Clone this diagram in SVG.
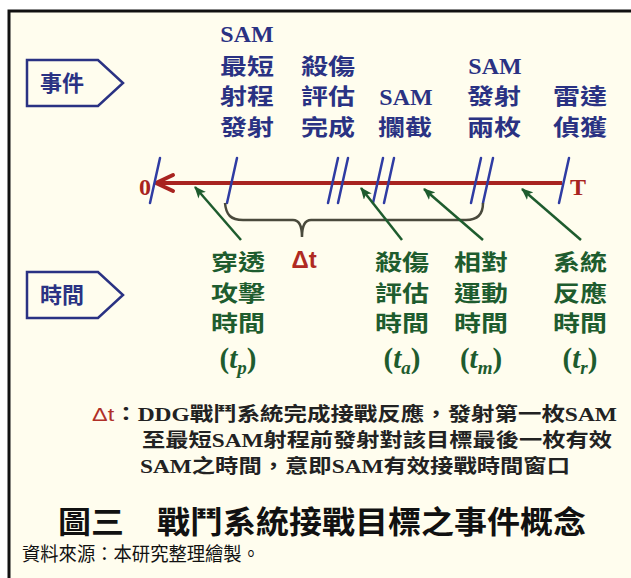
<svg xmlns="http://www.w3.org/2000/svg" width="631" height="578" viewBox="0 0 631 578">
<style>
.ev{font-family:"Noto Sans CJK TC","Noto Sans CJK SC",sans-serif;font-weight:700;font-size:22px;fill:#2A3283;text-anchor:middle}
.gr{font-family:"Noto Sans CJK TC","Noto Sans CJK SC",sans-serif;font-weight:700;font-size:22px;fill:#1E5C2E;text-anchor:middle}
.lat{font-family:"Liberation Serif",serif;font-weight:700}
.sam{font-size:24px}
.sym{font-family:"Liberation Serif",serif;font-weight:700;font-size:29px;fill:#1E5C2E;text-anchor:middle}
.box{fill:none;stroke:#2A3283;stroke-width:2.5;stroke-linejoin:miter}
.boxt{font-family:"Noto Sans CJK TC",sans-serif;font-weight:700;font-size:22px;fill:#2A3283;text-anchor:middle}
.tick{stroke:#2F3CA3;stroke-width:2.5;stroke-linecap:round}
.garr{stroke:#1E5C2E;stroke-width:2.5;fill:none;marker-end:url(#ga)}
.red{fill:#A82420}
.note{font-family:"Noto Sans CJK TC",sans-serif;font-weight:700;font-size:19px;fill:#222}
</style>
<defs>
<marker id="ga" viewBox="0 0 12 10" refX="11" refY="5" markerWidth="12" markerHeight="10" markerUnits="userSpaceOnUse" orient="auto">
<path d="M0,0 L12,5 L0,10 L3,5 z" fill="#1E5C2E"/>
</marker>
</defs>
<rect width="631" height="578" fill="#ffffff"/>
<rect x="9" y="11" width="622" height="567" fill="#FFFDEE"/>
<path d="M9,578 L9,11 L631,11" fill="none" stroke="#111" stroke-width="3"/>

<g id="events-box">
<polygon class="box" points="27,60 98,60 123,83 98,106 27,106"/>
<text class="boxt" x="62" y="91">事件</text>
</g>
<g id="time-box">
<polygon class="box" points="27,272 98,272 123,295 98,318 27,318"/>
<text class="boxt" x="62" y="303">時間</text>
</g>

<g id="ev-sam-min-range">
<text class="ev lat sam" x="247" y="42">SAM</text>
<text class="ev" x="247" y="74" textLength="54" lengthAdjust="spacingAndGlyphs">最短</text>
<text class="ev" x="247" y="104" textLength="54" lengthAdjust="spacingAndGlyphs">射程</text>
<text class="ev" x="247" y="135" textLength="54" lengthAdjust="spacingAndGlyphs">發射</text>
</g>
<g id="ev-kill-assess">
<text class="ev" x="328" y="74" textLength="54" lengthAdjust="spacingAndGlyphs">殺傷</text>
<text class="ev" x="328" y="104" textLength="54" lengthAdjust="spacingAndGlyphs">評估</text>
<text class="ev" x="328" y="135" textLength="54" lengthAdjust="spacingAndGlyphs">完成</text>
</g>
<g id="ev-sam-intercept">
<text class="ev lat sam" x="406" y="105">SAM</text>
<text class="ev" x="405" y="135" textLength="54" lengthAdjust="spacingAndGlyphs">攔截</text>
</g>
<g id="ev-sam-launch-two">
<text class="ev lat sam" x="495" y="74">SAM</text>
<text class="ev" x="494" y="104" textLength="54" lengthAdjust="spacingAndGlyphs">發射</text>
<text class="ev" x="494" y="135" textLength="54" lengthAdjust="spacingAndGlyphs">兩枚</text>
</g>
<g id="ev-radar">
<text class="ev" x="580" y="104" textLength="54" lengthAdjust="spacingAndGlyphs">雷達</text>
<text class="ev" x="580" y="135" textLength="54" lengthAdjust="spacingAndGlyphs">偵獲</text>
</g>

<g id="timeline">
<line x1="158" y1="183" x2="562" y2="183" stroke="#A82420" stroke-width="4"/>
<polyline points="173,175 156,183 173,191" fill="none" stroke="#A82420" stroke-width="4" stroke-linejoin="round" stroke-linecap="round"/>
<text class="red" x="145" y="195" font-family="Liberation Serif" font-weight="700" font-size="24" text-anchor="middle">0</text>
<text class="red" x="578" y="195" font-family="Liberation Serif" font-weight="700" font-size="24" text-anchor="middle">T</text>
<line class="tick" x1="160" y1="158" x2="150" y2="203"/>
<line class="tick" x1="237" y1="158" x2="227" y2="203"/>
<line class="tick" x1="338" y1="158" x2="328" y2="203"/>
<line class="tick" x1="348" y1="158" x2="338" y2="203"/>
<line class="tick" x1="383" y1="158" x2="373" y2="203"/>
<line class="tick" x1="394" y1="158" x2="384" y2="203"/>
<line class="tick" x1="481" y1="158" x2="471" y2="203"/>
<line class="tick" x1="493" y1="158" x2="483" y2="203"/>
<line class="tick" x1="569" y1="158" x2="559" y2="203"/>
</g>

<g id="delta-t">
<path d="M225,203 C226,215 231,220 243,220 L293,220 C299,220 302,226 302,237 C302,226 305,220 311,220 L466,220 C478,220 483,214 483,203" fill="none" stroke="#4A4A3C" stroke-width="2.5"/>
<text x="304" y="268" font-family="Liberation Sans" font-weight="700" font-size="24" fill="#B02A22" text-anchor="middle">Δt</text>
</g>

<g id="connectors">
<line class="garr" x1="241" y1="240" x2="195" y2="187"/>
<line class="garr" x1="402" y1="240" x2="361" y2="188"/>
<line class="garr" x1="483" y1="240" x2="424" y2="189"/>
<line class="garr" x1="581" y1="240" x2="522" y2="189"/>
</g>

<g id="t-penetration">
<text class="gr" x="238" y="270" textLength="54" lengthAdjust="spacingAndGlyphs">穿透</text>
<text class="gr" x="238" y="301" textLength="54" lengthAdjust="spacingAndGlyphs">攻擊</text>
<text class="gr" x="238" y="331" textLength="54" lengthAdjust="spacingAndGlyphs">時間</text>
<text class="sym" x="238" y="368">(<tspan font-style="italic">t</tspan><tspan font-style="italic" font-size="19" dy="6">p</tspan><tspan dy="-6">)</tspan></text>
</g>
<g id="t-assessment">
<text class="gr" x="402" y="270" textLength="54" lengthAdjust="spacingAndGlyphs">殺傷</text>
<text class="gr" x="402" y="301" textLength="54" lengthAdjust="spacingAndGlyphs">評估</text>
<text class="gr" x="402" y="331" textLength="54" lengthAdjust="spacingAndGlyphs">時間</text>
<text class="sym" x="402" y="368">(<tspan font-style="italic">t</tspan><tspan font-style="italic" font-size="19" dy="6">a</tspan><tspan dy="-6">)</tspan></text>
</g>
<g id="t-motion">
<text class="gr" x="481" y="270" textLength="54" lengthAdjust="spacingAndGlyphs">相對</text>
<text class="gr" x="481" y="301" textLength="54" lengthAdjust="spacingAndGlyphs">運動</text>
<text class="gr" x="481" y="331" textLength="54" lengthAdjust="spacingAndGlyphs">時間</text>
<text class="sym" x="481" y="368">(<tspan font-style="italic">t</tspan><tspan font-style="italic" font-size="19" dy="6">m</tspan><tspan dy="-6">)</tspan></text>
</g>
<g id="t-reaction">
<text class="gr" x="580" y="270" textLength="54" lengthAdjust="spacingAndGlyphs">系統</text>
<text class="gr" x="580" y="301" textLength="54" lengthAdjust="spacingAndGlyphs">反應</text>
<text class="gr" x="580" y="331" textLength="54" lengthAdjust="spacingAndGlyphs">時間</text>
<text class="sym" x="580" y="368">(<tspan font-style="italic">t</tspan><tspan font-style="italic" font-size="19" dy="6">r</tspan><tspan dy="-6">)</tspan></text>
</g>

<g id="note">
<text class="note" x="92" y="421" textLength="525" lengthAdjust="spacingAndGlyphs"><tspan fill="#B03028" font-family="Liberation Sans" font-weight="400">Δt</tspan>：<tspan class="lat">DDG</tspan>戰鬥系統完成接戰反應，發射第一枚<tspan class="lat">SAM</tspan></text>
<text class="note" x="142" y="447" textLength="470" lengthAdjust="spacingAndGlyphs">至最短<tspan class="lat">SAM</tspan>射程前發射對該目標最後一枚有效</text>
<text class="note" x="140" y="473" textLength="430" lengthAdjust="spacingAndGlyphs"><tspan class="lat">SAM</tspan>之時間，意即<tspan class="lat">SAM</tspan>有效接戰時間窗口</text>
</g>

<g id="title">
<text x="58" y="533" font-family="Noto Sans CJK TC,sans-serif" font-weight="600" font-size="31" fill="#111" textLength="528" lengthAdjust="spacingAndGlyphs">圖三　戰鬥系統接戰目標之事件概念</text>
</g>
<g id="source">
<text x="22" y="561" font-family="Noto Sans CJK TC,sans-serif" font-size="19" fill="#111" textLength="238" lengthAdjust="spacingAndGlyphs">資料來源：本研究整理繪製。</text>
</g>
</svg>
